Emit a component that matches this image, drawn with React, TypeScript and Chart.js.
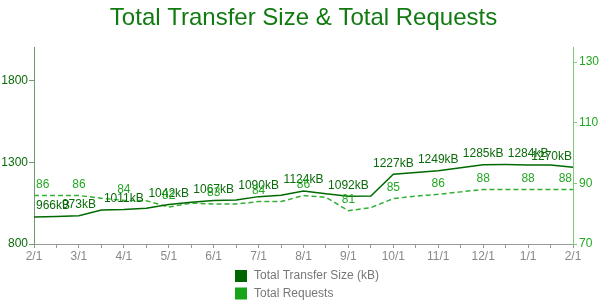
import React, { useEffect, useRef } from "react";
import { Chart, registerables } from "chart.js";

Chart.register(...registerables);

const dates = [
  "2/1", "2/15", "3/1", "3/15", "4/1", "4/15", "5/1", "5/15", "6/1", "6/15",
  "7/1", "7/15", "8/1", "8/15", "9/1", "9/15", "10/1", "10/15", "11/1", "11/15",
  "12/1", "12/15", "1/1", "1/15", "2/1",
];
const transferSizeKB = [
  966, 968, 973, 1008, 1011, 1019, 1042, 1055, 1067, 1069,
  1090, 1098, 1124, 1108, 1092, 1094, 1227, 1238, 1249, 1267,
  1285, 1286, 1284, 1283, 1270,
];
const totalRequests = [
  86, 86, 86, 85.1, 84.4, 84.3, 82.2, 83.5, 83.2, 83.2,
  84, 84, 86, 85.4, 81, 82, 85, 85.8, 86.4, 87.2,
  88, 88, 88, 88, 88,
];
const leftTicks = [800, 1300, 1800];
const rightTicks = [70, 90, 110, 130];
const titleText = "Total Transfer Size & Total Requests";
const seriesLabels = ["Total Transfer Size (kB)", "Total Requests"];

const FONT = "'Liberation Sans', Arial, sans-serif";
const DARK = "#0a6b0a";
const LIGHT = "#22a822";

const overlayPlugin = {
  id: "overlay",
  afterDatasetsDraw(chart: any) {
    const ctx = chart.ctx;
    const area = chart.chartArea;
    ctx.save();
    ctx.font = `12px ${FONT}`;
    ctx.textBaseline = "middle";
    ctx.textAlign = "left";
    chart.data.datasets.forEach((ds: any, di: number) => {
      const meta = chart.getDatasetMeta(di);
      ctx.fillStyle = di === 0 ? DARK : LIGHT;
      meta.data.forEach((pt: any, i: number) => {
        if (i % 2 !== 0) return;
        const v = ds.data[i];
        const txt = di === 0 ? `${Math.round(v)}kB` : `${Math.round(v)}`;
        const w = ctx.measureText(txt).width;
        let x = pt.x - w / 2;
        if (x < area.left + 2) x = area.left + 2;
        if (x + w > area.right - 1) x = area.right - 1 - w;
        ctx.fillText(txt, x, pt.y - 11);
      });
    });
    ctx.restore();
  },
  afterDraw(chart: any) {
    const ctx = chart.ctx;
    const area = chart.chartArea;
    ctx.save();
    ctx.font = `24px ${FONT}`;
    ctx.fillStyle = "#117a11";
    ctx.textAlign = "center";
    ctx.textBaseline = "middle";
    ctx.fillText(titleText, (area.left + area.right) / 2, 18);
    ctx.font = `12px ${FONT}`;
    ctx.textAlign = "left";
    const colors = ["#006400", "#18a418"];
    seriesLabels.forEach((lab, i) => {
      const y = 270 + i * 17.5;
      ctx.fillStyle = colors[i];
      ctx.fillRect(235, y, 12, 12);
      ctx.fillStyle = "#777777";
      ctx.fillText(lab, 254, y + 6);
    });
    ctx.restore();
  },
};

export default function App() {
  const ref = useRef<HTMLCanvasElement>(null);
  useEffect(() => {
    document.body.style.margin = "0";
    const chart = new Chart(ref.current as HTMLCanvasElement, {
      type: "line",
      data: {
        labels: dates,
        datasets: [
          {
            label: seriesLabels[0],
            data: transferSizeKB,
            yAxisID: "y",
            borderColor: "#006a00",
            borderWidth: 1.5,
            pointRadius: 0,
            tension: 0,
          },
          {
            label: seriesLabels[1],
            data: totalRequests,
            yAxisID: "y1",
            borderColor: "#33b033",
            borderWidth: 1.5,
            borderDash: [5, 3],
            pointRadius: 0,
            tension: 0,
          },
        ],
      },
      options: {
        responsive: false,
        animation: false,
        layout: { padding: { top: 47, bottom: 36, left: 0, right: 0 } },
        plugins: {
          legend: { display: false },
          title: { display: false },
          tooltip: { enabled: false },
        },
        scales: {
          x: {
            type: "category",
            offset: false,
            afterFit: (s: any) => { s.height = 20; },
            grid: { drawOnChartArea: false, drawTicks: true, tickLength: 4, color: "#999999" },
            border: { color: "#999999", width: 1 },
            ticks: {
              autoSkip: false,
              maxRotation: 0,
              minRotation: 0,
              padding: 1,
              color: "#888888",
              font: { family: FONT, size: 12 },
              callback: (_v: any, i: number) => (i % 2 === 0 ? dates[i] : ""),
            },
          },
          y: {
            type: "linear",
            position: "left",
            min: 800,
            max: 2006,
            afterFit: (s: any) => { s.width = 34; },
            afterBuildTicks: (s: any) => { s.ticks = leftTicks.map((v) => ({ value: v })); },
            grid: { drawOnChartArea: false, drawTicks: true, tickLength: 5, color: "#6f9a6f" },
            border: { color: "#6f9a6f", width: 1 },
            ticks: {
              padding: 1,
              color: DARK,
              font: { family: FONT, size: 12 },
              callback: (v: any) => `${v}`,
            },
          },
          y1: {
            type: "linear",
            position: "right",
            min: 70,
            max: 135,
            afterFit: (s: any) => { s.width = 27; },
            afterBuildTicks: (s: any) => { s.ticks = rightTicks.map((v) => ({ value: v })); },
            grid: { drawOnChartArea: false, drawTicks: true, tickLength: 4, color: "#7acc7a" },
            border: { color: "#7acc7a", width: 1 },
            ticks: {
              padding: 2,
              color: LIGHT,
              font: { family: FONT, size: 12 },
              callback: (v: any) => `${v}`,
            },
          },
        },
      },
      plugins: [overlayPlugin],
    });
    return () => chart.destroy();
  }, []);
  return (
    <div style={{ width: 600, height: 300 }}>
      <canvas ref={ref} width={600} height={300} style={{ display: "block" }} />
    </div>
  );
}
